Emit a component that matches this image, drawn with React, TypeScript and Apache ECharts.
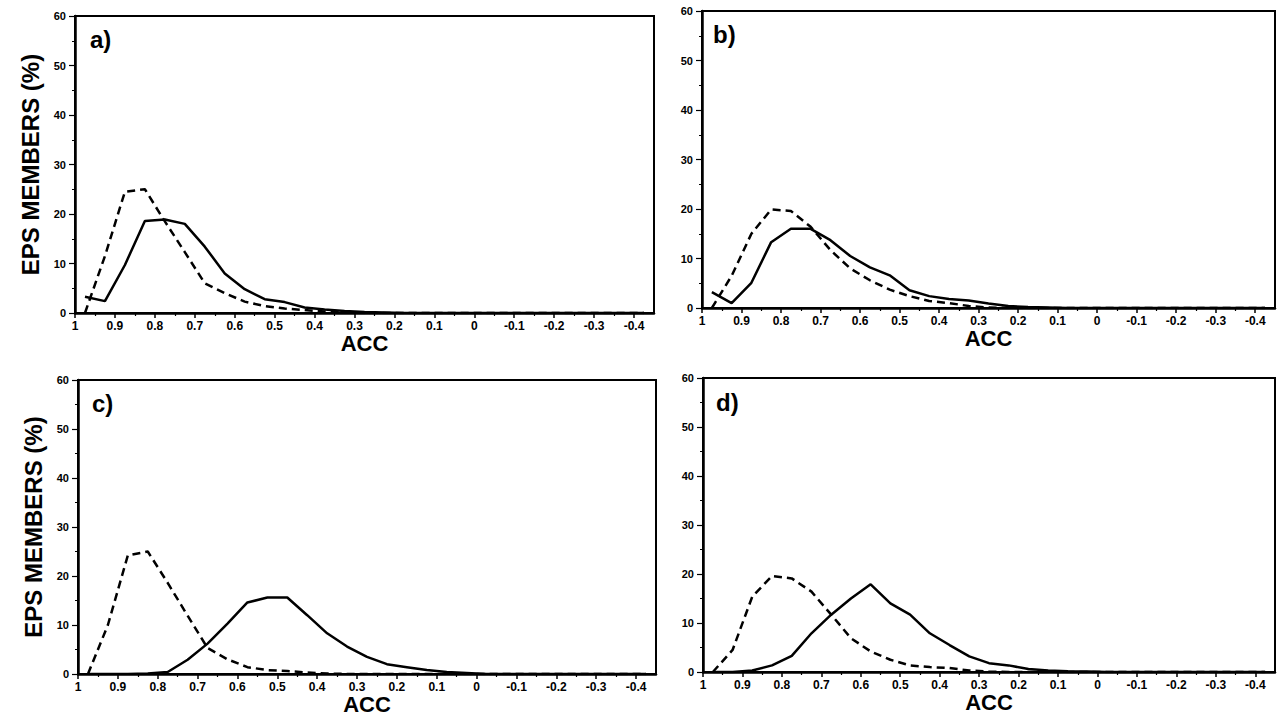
import React, { useEffect, useRef } from "react";
import * as echarts from "echarts";

const FONT = '"Liberation Sans", Arial, Helvetica, sans-serif';

// ACC bin centres (x)
const acc = [
  0.975, 0.925, 0.875, 0.825, 0.775, 0.725, 0.675, 0.625, 0.575, 0.525,
  0.475, 0.425, 0.375, 0.325, 0.275, 0.225, 0.175, 0.125, 0.075, 0.025,
  -0.025, -0.075, -0.125, -0.175, -0.225, -0.275, -0.325, -0.375, -0.425,
];

// x tick labels and tick marks
const xLabelValues = [1, 0.9, 0.8, 0.7, 0.6, 0.5, 0.4, 0.3, 0.2, 0.1, 0, -0.1, -0.2, -0.3, -0.4];
const xMinorTickValues = [0.95, 0.85, 0.75, 0.65, 0.55, 0.45, 0.35, 0.25, 0.15, 0.05, -0.05, -0.15, -0.25, -0.35];

// Panel a)
const aSolid = [3.3, 2.4, 9.7, 18.6, 18.9, 18.0, 13.4, 8.0, 4.8, 2.8, 2.2, 1.1, 0.7, 0.4, 0.2, 0.1, 0, 0, 0, 0, 0, 0, 0, 0, 0, 0, 0, 0, 0];
const aDashed = [0, 11.5, 24.5, 25.0, 18.5, 12.3, 6.0, 4.0, 2.3, 1.4, 0.9, 0.6, 0.3, 0.1, 0, 0, 0, 0, 0, 0, 0, 0, 0, 0, 0, 0, 0, 0, 0];
// Panel b)
const bSolid = [3.2, 1.0, 5.1, 13.3, 16.0, 16.0, 13.7, 10.5, 8.2, 6.6, 3.6, 2.4, 1.8, 1.5, 0.9, 0.4, 0.2, 0.1, 0, 0, 0, 0, 0, 0, 0, 0, 0, 0, 0];
const bDashed = [0, 6.5, 15.0, 19.9, 19.6, 16.4, 11.7, 8.0, 5.6, 3.7, 2.4, 1.4, 1.0, 0.4, 0.1, 0, 0, 0, 0, 0, 0, 0, 0, 0, 0, 0, 0, 0, 0];
// Panel c)
const cSolid = [0, 0, 0, 0.1, 0.4, 2.9, 6.2, 10.3, 14.6, 15.6, 15.6, 12.0, 8.3, 5.6, 3.5, 2.0, 1.4, 0.8, 0.4, 0.2, 0, 0, 0, 0, 0, 0, 0, 0, 0];
const cDashed = [0, 10.0, 24.2, 25.0, 18.6, 11.9, 5.3, 3.0, 1.4, 0.8, 0.6, 0.3, 0.1, 0, 0, 0, 0, 0, 0, 0, 0, 0, 0, 0, 0, 0, 0, 0, 0];
// Panel d)
const dSolid = [0, 0, 0.3, 1.35, 3.3, 7.9, 11.7, 15.0, 17.9, 14.0, 11.7, 7.9, 5.5, 3.2, 1.8, 1.35, 0.6, 0.3, 0.15, 0.1, 0, 0, 0, 0, 0, 0, 0, 0, 0];
const dDashed = [0, 4.5, 15.4, 19.6, 19.1, 16.4, 11.7, 6.9, 4.2, 2.5, 1.35, 1.0, 0.8, 0.3, 0.1, 0, 0, 0, 0, 0, 0, 0, 0, 0, 0, 0, 0, 0, 0];

const panelLabels = ["a)", "b)", "c)", "d)"];
const solidSeries = [aSolid, bSolid, cSolid, dSolid];
const dashedSeries = [aDashed, bDashed, cDashed, dDashed];

const yName = "EPS MEMBERS (%)";
const xName = "ACC";

// layout (pixels)
const grids = [
  { left: 75, top: 16, width: 579, height: 297 },
  { left: 702, top: 11, width: 573, height: 297 },
  { left: 78, top: 380, width: 578, height: 294 },
  { left: 703, top: 378, width: 572, height: 294 },
];
const labelPos = [
  { x: 90, y: 27 },
  { x: 713, y: 22 },
  { x: 92, y: 391 },
  { x: 716, y: 390 },
];

export default function App() {
  const ref = useRef<HTMLDivElement>(null);

  useEffect(() => {
    const chart = echarts.init(ref.current!, null, { renderer: "svg" });

    const fmtX = (v: number) => {
      const r = Math.round(v * 10) / 10;
      return r === 0 ? "0" : String(r);
    };

    const baseX = (i: number) => ({
      type: "value",
      gridIndex: i,
      inverse: true,
      min: -0.45,
      max: 1,
      splitLine: { show: false },
    });

    const xMain = grids.map((_, i) => ({
      ...baseX(i),
      name: xName,
      nameLocation: "middle",
      nameGap: 19,
      nameTextStyle: { fontFamily: FONT, fontWeight: "bold", fontSize: 22, color: "#000" },
      axisLine: { show: true, onZero: false, lineStyle: { color: "#000", width: 2.5 } },
      axisTick: {
        show: true,
        inside: false,
        length: 5,
        customValues: xLabelValues,
        lineStyle: { color: "#000", width: 1.5 },
      },
      axisLabel: {
        show: true,
        margin: 7,
        customValues: xLabelValues,
        formatter: fmtX,
        fontFamily: FONT,
        fontWeight: "bold",
        fontSize: 12,
        color: "#000",
      },
    }));

    const xMinor = grids.map((_, i) => ({
      ...baseX(i),
      position: "bottom",
      axisLine: { show: false, onZero: false },
      axisTick: {
        show: true,
        inside: false,
        length: 3,
        customValues: xMinorTickValues,
        lineStyle: { color: "#000", width: 1.2 },
      },
      axisLabel: { show: false },
    }));

    const option: any = {
      animation: false,
      backgroundColor: "#fff",
      grid: grids.map((g) => ({
        ...g,
        show: true,
        borderColor: "#000",
        borderWidth: 2,
        backgroundColor: "transparent",
        containLabel: false,
      })),
      xAxis: [...xMain, ...xMinor],
      yAxis: grids.map((_, i) => ({
        type: "value",
        gridIndex: i,
        min: 0,
        max: 60,
        interval: 10,
        name: i % 2 === 0 ? yName : "",
        nameLocation: "middle",
        nameGap: 33,
        nameRotate: 90,
        nameTextStyle: { fontFamily: FONT, fontWeight: "bold", fontSize: 24, color: "#000" },
        axisLine: { show: true, onZero: false, lineStyle: { color: "#000", width: 2.5 } },
        axisTick: { show: true, inside: false, length: 6, lineStyle: { color: "#000", width: 1.2 } },
        minorTick: { show: true, splitNumber: 2, length: 3, lineStyle: { color: "#000", width: 1 } },
        axisLabel: {
          show: true,
          margin: 9,
          fontFamily: FONT,
          fontWeight: "bold",
          fontSize: 11,
          color: "#000",
        },
        splitLine: { show: false },
        minorSplitLine: { show: false },
      })),
      series: [
        ...solidSeries.map((vals, i) => ({
          type: "line",
          name: panelLabels[i] + " solid",
          xAxisIndex: i,
          yAxisIndex: i,
          data: acc.map((x, j) => [x, vals[j]]),
          symbol: "none",
          showSymbol: false,
          lineStyle: { color: "#000", width: 2.5, type: "solid" },
          clip: true,
          z: 3,
        })),
        ...dashedSeries.map((vals, i) => ({
          type: "line",
          name: panelLabels[i] + " dashed",
          xAxisIndex: i,
          yAxisIndex: i,
          data: acc.map((x, j) => [x, vals[j]]),
          symbol: "none",
          showSymbol: false,
          lineStyle: { color: "#000", width: 2.5, type: [8, 5] },
          clip: true,
          z: 3,
        })),
      ],
      graphic: panelLabels.map((t, i) => ({
        type: "text",
        x: labelPos[i].x,
        y: labelPos[i].y,
        z: 10,
        style: {
          text: t,
          fontFamily: FONT,
          fontWeight: "bold",
          fontSize: 24,
          fill: "#000",
        },
      })),
    };

    chart.setOption(option);
    return () => chart.dispose();
  }, []);

  return (
    <div
      ref={ref}
      style={{ position: "fixed", left: 0, top: 0, width: 1282, height: 728, background: "#fff" }}
    />
  );
}
